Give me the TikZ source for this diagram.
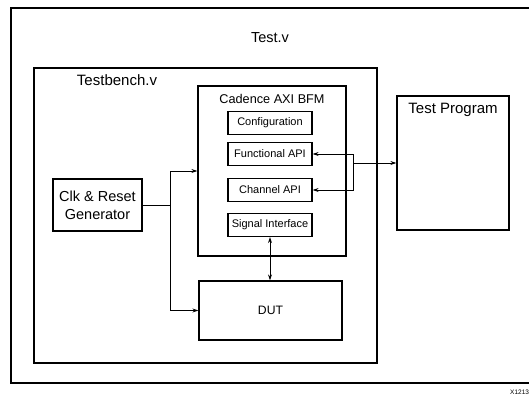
\documentclass[tikz,border=0pt]{standalone}
\usepackage{fontspec}
\setmainfont{Liberation Sans}
\usetikzlibrary{positioning, arrows.meta}

\begin{document}
\begin{tikzpicture}[x=1pt, y=-1pt, >={Stealth[length=6pt, width=4pt]},
		frame/.style={draw, rectangle, line width=1.2pt, inner sep=0pt},
		api/.style={draw, rectangle, line width=1.2pt, minimum width=84pt, minimum height=23pt, inner sep=0pt, font=\fontsize{11}{13}\selectfont},
		wire/.style={line width=0.8pt}]
		\useasboundingbox (0, 0) rectangle (529, 397);
		\clip (0, 0) rectangle (529, 397);

		\node[frame, line width=1.5pt, minimum width=560pt, minimum height=375pt] (test) at (291, 195.5) {};
		\node[font=\fontsize{14.5}{17}\selectfont] (testlabel) at (270, 38) {Test.v};

		\node[frame, minimum width=343pt, minimum height=295pt] (tb) at (205.5, 215.5) {};
		\node[font=\fontsize{15}{18}\selectfont] (tblabel) at (117, 80) {Testbench.v};

		\node[frame, minimum width=148pt, minimum height=170pt] (bfm) at (272, 171) {};
		\node[font=\fontsize{12.7}{15}\selectfont] (bfmlabel) at (272, 99) {Cadence AXI BFM};
		\node[api] (config) at (270, 123) {Configuration};
		\node[api] (func) at (270, 154) {Functional API};
		\node[api] (chan) at (270, 190) {Channel API};
		\node[api] (sig) at (270, 225) {Signal Interface};

		\node[frame, minimum width=112pt, minimum height=134pt] (prog) at (453, 163) {};
		\node[font=\fontsize{15}{18}\selectfont] (proglabel) at (453, 110) {Test Program};

		\node[frame, minimum width=89pt, minimum height=52pt, align=center, font=\fontsize{14.5}{18}\selectfont] (clk) at (97.5, 205) {Clk \& Reset\\Generator};
		\node[frame, minimum width=143pt, minimum height=59pt, font=\fontsize{12.2}{15}\selectfont] (dut) at (270.5, 310.5) {DUT};

		\node[anchor=west, inner sep=0pt, font=\fontsize{6.5}{8}\selectfont] (fig) at (510, 392) {X1213};

		\coordinate (split) at (170, 205);
		\coordinate (fork) at (353, 163);
		\draw [wire] (clk) -- (split);
		\draw [wire, ->] (split) |- (bfm);
		\draw [wire, ->] (split) |- (dut);
		\draw [wire, <->] (sig.south) -- (sig.south |- dut.north);
		\draw [wire, ->] (fork) |- (func);
		\draw [wire, ->] (fork) |- (chan);
		\draw [wire, ->] (fork) -- (prog);
	\end{tikzpicture}
\end{document}
